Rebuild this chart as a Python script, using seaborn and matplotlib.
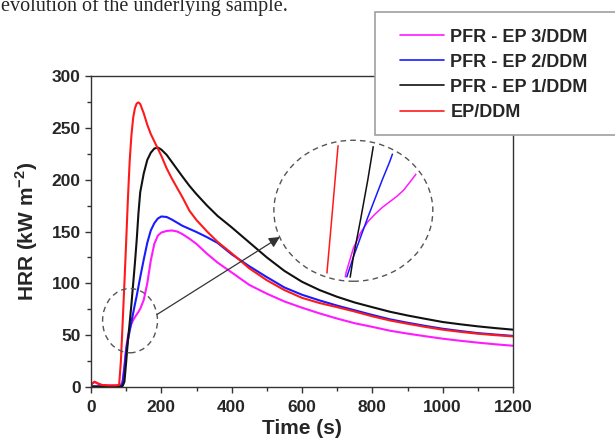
import numpy as np
import pandas as pd
import matplotlib
matplotlib.use("Agg")
import matplotlib.pyplot as plt
from matplotlib.patches import Ellipse, Rectangle
from matplotlib.lines import Line2D
from matplotlib.ticker import MultipleLocator
import seaborn as sns

# ---------------- data ----------------
time_s = [0, 10, 20, 30, 50, 70, 80, 85,
          90, 95, 100, 105, 110, 115, 120, 125, 130, 135, 140,
          150, 160, 170, 180, 190, 200,
          215, 230, 245, 260, 280, 300,
          330, 360, 400, 450, 500, 550, 600,
          650, 700, 750, 800, 850, 900, 950, 1000,
          1050, 1100, 1150, 1200]

hrr_ep = [2, 5, 3.5, 2, 1.5, 1.5, 2, 25,
          62, 100, 140, 182, 218, 243, 260, 269, 273.5, 274.5, 273,
          264, 253, 244, 237, 230, 223,
          211, 201, 192, 183, 170, 161,
          150, 140, 129, 114.5, 103, 93.5, 86,
          81, 77, 72.8, 68.2, 64.2, 61, 58, 55.3,
          53.2, 51.4, 50, 48.8]

hrr_pfr1 = [0.5, 0.5, 0.5, 0.5, 0.5, 0.5, 0.5, 0.5,
            1, 5, 24, 45, 62, 80, 100, 120, 142, 168, 188,
            206, 219, 226, 230, 231, 229,
            224, 217, 210, 203, 194, 186,
            175, 165, 154, 139.5, 125, 112, 101.5,
            93.5, 87, 81.5, 77, 72.6, 69, 65.8, 62.7,
            60.5, 58.5, 56.8, 55.3]

hrr_pfr2 = [0.5, 0.5, 0.5, 0.5, 0.5, 0.5, 0.5, 0.8,
            4, 18, 35, 45, 54, 63, 71.5, 80, 88, 97, 106,
            123, 139, 151, 158, 162.5, 164.5,
            164, 161.5, 158.5, 155.5, 152.5, 149.5,
            144.5, 139, 128, 116.5, 106, 96, 89,
            83.5, 78.5, 74, 69.5, 65.3, 62, 59, 56.2,
            54, 52, 50.6, 49.3]

hrr_pfr3 = [3, 5, 3, 2, 1.5, 1.5, 1.5, 2,
            6, 20, 38, 49, 56, 61, 64.5, 67.5, 70, 72.5, 75.5,
            84, 100, 122, 138, 146, 149,
            150.5, 151, 150, 147.5, 143, 138,
            128.5, 120, 110.5, 98.5, 90, 82.5, 76.5,
            71, 66, 61.5, 58, 54.3, 51.5, 49, 46.6,
            44.6, 42.8, 41.2, 39.8]

labels = ["PFR - EP 3/DDM", "PFR - EP 2/DDM", "PFR - EP 1/DDM", "EP/DDM"]
series = [hrr_pfr3, hrr_pfr2, hrr_pfr1, hrr_ep]
colors = ["#ff1aff", "#1a1aff", "#111111", "#ff1a1a"]

x_ticks = [0, 200, 400, 600, 800, 1000, 1200]
y_ticks = [0, 50, 100, 150, 200, 250, 300]

# highlighted region (small dashed ellipse) and zoom window
zoom_t = (33, 189)
zoom_v = (33, 95)
inset_t = (520, 972)      # placement of magnified view in main-axes data units
inset_v = (102, 238)
inset_xlim = (50, 160)
inset_ylim = (34, 98)

df = pd.concat([pd.DataFrame({"Time": time_s, "HRR": s, "Sample": lab})
                for s, lab in zip(series, labels)], ignore_index=True)
palette = dict(zip(labels, colors))

# ---------------- style ----------------
sns.set_style("ticks")
plt.rcParams["font.family"] = ["Liberation Sans", "DejaVu Sans"]
plt.rcParams["mathtext.fontset"] = "custom"
plt.rcParams["mathtext.rm"] = "Liberation Sans"
plt.rcParams["mathtext.bf"] = "Liberation Sans:bold"

fig = plt.figure(figsize=(6.15, 4.41), dpi=100)
ax = fig.add_axes([91 / 615, 1 - 387 / 441, (513 - 91) / 615, (387 - 76) / 441])

sns.lineplot(data=df, x="Time", y="HRR", hue="Sample", hue_order=labels,
             palette=palette, estimator=None, sort=False, linewidth=1.5,
             legend=False, ax=ax)

ax.set_xlim(0, 1200)
ax.set_ylim(0, 300)
ax.set_xticks(x_ticks)
ax.set_yticks(y_ticks)
ax.xaxis.set_minor_locator(MultipleLocator(100))
ax.yaxis.set_minor_locator(MultipleLocator(25))
ax.tick_params(which="major", direction="out", length=4.5, width=1, color="#333333",
               labelsize=12.5)
ax.tick_params(axis="x", which="major", pad=5)
ax.tick_params(axis="y", which="major", pad=3)
ax.tick_params(which="minor", direction="out", length=2.8, width=1, color="#333333")
for lab in ax.get_xticklabels() + ax.get_yticklabels():
    lab.set_fontweight("bold")
for sp in ax.spines.values():
    sp.set_linewidth(1.0)
    sp.set_color("#333333")

ax.set_xlabel("Time (s)", fontsize=15, fontweight="bold", labelpad=3)
ax.set_ylabel(r"HRR (kW m$^{\mathbf{-2}}$)", fontsize=15, fontweight="bold", labelpad=8)

# small dashed ellipse
ax.add_patch(Ellipse(((zoom_t[0] + zoom_t[1]) / 2, (zoom_v[0] + zoom_v[1]) / 2),
                     zoom_t[1] - zoom_t[0], zoom_v[1] - zoom_v[0],
                     fill=False, ec="#555555", lw=1.0, ls=(0, (4, 3)), zorder=3))

# magnified view
axin = ax.inset_axes([inset_t[0], inset_v[0], inset_t[1] - inset_t[0], inset_v[1] - inset_v[0]],
                     transform=ax.transData)
sns.lineplot(data=df, x="Time", y="HRR", hue="Sample", hue_order=labels,
             palette=palette, estimator=None, sort=False, linewidth=1.1,
             legend=False, ax=axin)
axin.set_xlim(*inset_xlim)
axin.set_ylim(*inset_ylim)
axin.set_xlabel("")
axin.set_ylabel("")
axin.set_xticks([])
axin.set_yticks([])
axin.patch.set_visible(False)
axin.axis("off")
clip = Ellipse((0.5, 0.5), 0.95, 0.95, transform=axin.transAxes)
for ln in axin.lines:
    ln.set_clip_path(clip)
axin.add_patch(Ellipse((0.5, 0.5), 1, 1, transform=axin.transAxes, fill=False,
                       ec="#555555", lw=1.0, ls=(0, (4, 3)), clip_on=False))

ax.annotate("", xy=(0.038, 0.314), xycoords=axin.transAxes,
            xytext=(zoom_t[1] - 1, 70), textcoords="data",
            arrowprops=dict(arrowstyle="-|>", color="#333333", lw=0.9,
                            mutation_scale=16, shrinkA=0, shrinkB=0))

# legend box
fig.add_artist(Rectangle((375 / 615, 1 - 135 / 441), (640 - 375) / 615, 123 / 441,
                         transform=fig.transFigure, facecolor="white",
                         edgecolor="#a0a0a0", lw=1.2, zorder=4))
handles = [Line2D([], [], color=c, lw=1.2) for c in colors]
fig.legend(handles, labels, loc="upper left", bbox_to_anchor=(400 / 615, 1 - 28.5 / 441),
           frameon=False, borderpad=0, borderaxespad=0, handlelength=2.45,
           handletextpad=0.34, labelspacing=0.45,
           prop={"weight": "bold", "size": 13}).set_zorder(5)

fig.text(1 / 615, 1 - 11 / 441, "evolution of the underlying sample.",
         family="Liberation Serif", fontsize=14.5, va="baseline", ha="left")

fig.savefig("out.png", dpi=100)
